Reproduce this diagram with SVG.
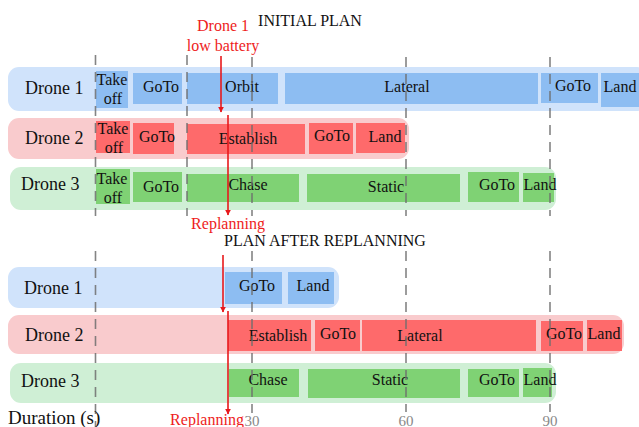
<svg xmlns="http://www.w3.org/2000/svg" width="639" height="427" viewBox="0 0 639 427">
<style>
text{font-family:"Liberation Serif","Times New Roman",serif;fill:#111}
.t{font-size:16px;text-anchor:middle}
.lbl{font-size:18px}
.ttl{font-size:16px;text-anchor:middle}
.red{fill:#ee1c1c;font-size:16px;text-anchor:middle}
.tick{fill:#888;font-size:15px;text-anchor:middle}
.bgB{fill:#d0e3fb}.bgR{fill:#f9cbcd}.bgG{fill:#cfefd5}
.bB{fill:#8dbdf2}.bR{fill:#fe6a6b}.bG{fill:#7fd274}
.grid line{stroke:#6f6f6f;stroke-width:1.6;stroke-dasharray:10,7;opacity:0.85}
.arr{stroke:#e8191c;stroke-width:1.6;fill:none;marker-end:url(#ah)}
</style>
<defs>
<marker id="ah" viewBox="0 0 10 10" refX="9" refY="5" markerWidth="6" markerHeight="7" orient="auto" markerUnits="userSpaceOnUse">
<path d="M0,0 L10,5 L0,10 z" fill="#e8191c"/>
</marker>
</defs>

<text class="ttl" x="310" y="26">INITIAL PLAN</text>
<text class="ttl" x="325" y="246">PLAN AFTER REPLANNING</text>

<!-- initial plan -->
<g id="init-drone1">
<rect class="bgB" x="8" y="67" width="640" height="44" rx="11"/>
<text class="lbl" x="25" y="94">Drone 1</text>
<g id="i1-takeoff"><rect class="bB" x="96" y="71" width="32" height="37"/><text class="t" x="112" y="85">Take</text><text class="t" x="113" y="104">off</text></g>
<g id="i1-goto1"><rect class="bB" x="133" y="73" width="49" height="31"/><text class="t" x="161" y="92">GoTo</text></g>
<g id="i1-orbit"><rect class="bB" x="187" y="73" width="91" height="31"/><text class="t" x="242" y="92">Orbit</text></g>
<g id="i1-lateral"><rect class="bB" x="285" y="73" width="253" height="31"/><text class="t" x="407" y="92">Lateral</text></g>
<g id="i1-goto2"><rect class="bB" x="541" y="73" width="57" height="30"/><text class="t" x="573" y="91">GoTo</text></g>
<g id="i1-land"><rect class="bB" x="601" y="73" width="38" height="34"/><text class="t" x="620" y="92">Land</text></g>
</g>

<g id="init-drone2">
<rect class="bgR" x="8" y="118" width="401" height="41" rx="11"/>
<text class="lbl" x="25" y="144">Drone 2</text>
<g id="i2-takeoff"><rect class="bR" x="96" y="121" width="34" height="32"/><text class="t" x="113" y="134">Take</text><text class="t" x="114" y="153">off</text></g>
<g id="i2-goto1"><rect class="bR" x="133" y="123" width="41" height="31"/><text class="t" x="157" y="142">GoTo</text></g>
<g id="i2-establish"><rect class="bR" x="187" y="124" width="118" height="30"/><text class="t" x="248" y="144">Establish</text></g>
<g id="i2-goto2"><rect class="bR" x="309" y="123" width="44" height="31"/><text class="t" x="332" y="141">GoTo</text></g>
<g id="i2-land"><rect class="bR" x="356" y="123" width="49" height="30"/><text class="t" x="385" y="142">Land</text></g>
</g>

<g id="init-drone3">
<rect class="bgG" x="10" y="167" width="546" height="43" rx="11"/>
<text class="lbl" x="21" y="190">Drone 3</text>
<g id="i3-takeoff"><rect class="bG" x="96" y="169" width="34" height="35"/><text class="t" x="112" y="184">Take</text><text class="t" x="113" y="203">off</text></g>
<g id="i3-goto1"><rect class="bG" x="133" y="172" width="49" height="30"/><text class="t" x="161" y="192">GoTo</text></g>
<g id="i3-chase"><rect class="bG" x="187" y="174" width="112" height="28"/><text class="t" x="248" y="190">Chase</text></g>
<g id="i3-static"><rect class="bG" x="307" y="174" width="153" height="28"/><text class="t" x="386" y="192">Static</text></g>
<g id="i3-goto2"><rect class="bG" x="468" y="172" width="51" height="30"/><text class="t" x="497" y="190">GoTo</text></g>
<g id="i3-land"><rect class="bG" x="523" y="173" width="31" height="29"/><text class="t" x="540" y="190">Land</text></g>
</g>

<!-- after replanning -->
<g id="re-drone1">
<rect class="bgB" x="8" y="267" width="331" height="41" rx="11"/>
<text class="lbl" x="24" y="294">Drone 1</text>
<g id="r1-goto"><rect class="bB" x="225" y="272" width="57" height="32"/><text class="t" x="257" y="291">GoTo</text></g>
<g id="r1-land"><rect class="bB" x="288" y="272" width="46" height="32"/><text class="t" x="313" y="291">Land</text></g>
</g>

<g id="re-drone2">
<rect class="bgR" x="8" y="315" width="616" height="39" rx="11"/>
<text class="lbl" x="25" y="341">Drone 2</text>
<g id="r2-establish"><rect class="bR" x="228" y="320" width="83" height="31"/><text class="t" x="278" y="341">Establish</text></g>
<g id="r2-goto1"><rect class="bR" x="315" y="320" width="45" height="31"/><text class="t" x="338" y="339">GoTo</text></g>
<g id="r2-lateral"><rect class="bR" x="362" y="320" width="174" height="31"/><text class="t" x="420" y="341">Lateral</text></g>
<g id="r2-goto2"><rect class="bR" x="541" y="321" width="42" height="30"/><text class="t" x="564" y="339">GoTo</text></g>
<g id="r2-land"><rect class="bR" x="587" y="320" width="35" height="31"/><text class="t" x="604" y="339">Land</text></g>
</g>

<g id="re-drone3">
<rect class="bgG" x="10" y="363" width="546" height="40" rx="11"/>
<text class="lbl" x="21" y="387">Drone 3</text>
<g id="r3-chase"><rect class="bG" x="229" y="369" width="70" height="28"/><text class="t" x="268" y="385">Chase</text></g>
<g id="r3-static"><rect class="bG" x="308" y="369" width="152" height="29"/><text class="t" x="390" y="385">Static</text></g>
<g id="r3-goto"><rect class="bG" x="468" y="369" width="51" height="28"/><text class="t" x="497" y="385">GoTo</text></g>
<g id="r3-land"><rect class="bG" x="523" y="368" width="29" height="29"/><text class="t" x="540" y="385">Land</text></g>
</g>

<g class="grid">
<line x1="95.5" y1="55" x2="95.5" y2="216"/>
<line x1="187" y1="55" x2="187" y2="216"/>
<line x1="252" y1="57" x2="252" y2="216"/>
<line x1="406" y1="57" x2="406" y2="216"/>
<line x1="550" y1="57" x2="550" y2="216"/>
<line x1="95.5" y1="251" x2="95.5" y2="427"/>
<line x1="252" y1="251" x2="252" y2="413"/>
<line x1="406" y1="251" x2="406" y2="412"/>
<line x1="550" y1="251" x2="550" y2="412"/>
</g>

<text class="tick" x="252" y="426">30</text>
<text class="tick" x="406" y="426">60</text>
<text class="tick" x="550" y="426">90</text>
<text x="8" y="424" style="font-size:19px">Duration (s)</text>

<text class="red" x="223" y="31">Drone 1</text>
<text class="red" x="223" y="51">low battery</text>
<text class="red" x="228" y="229">Replanning</text>
<text class="red" x="207" y="425">Replanning</text>

<g id="connectors">
<line class="arr" x1="221" y1="56" x2="221" y2="112"/>
<line class="arr" x1="228" y1="115" x2="228" y2="215"/>
<line class="arr" x1="223" y1="255" x2="223" y2="312"/>
<line class="arr" x1="228" y1="311" x2="228" y2="414"/>
</g>
</svg>
